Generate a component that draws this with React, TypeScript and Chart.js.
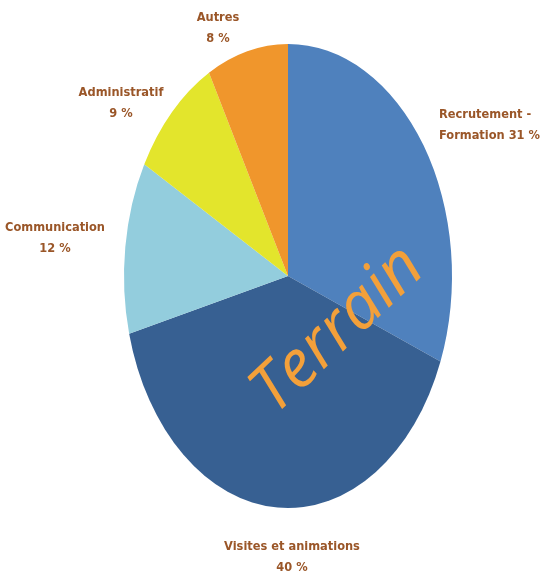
import React, { useEffect, useRef } from "react";
import { Chart, registerables } from "chart.js";

Chart.register(...registerables);

const categories = [
  "Recrutement - Formation",
  "Visites et animations",
  "Communication",
  "Administratif",
  "Autres",
];
const values = [31, 40, 12, 9, 8];
const sliceColors = ["#4F81BD", "#376092", "#93CDDD", "#E3E52C", "#F0962C"];

// label lines and anchors (layout, kept separate from data)
const labelLines = [
  ["Recrutement -", "Formation 31 %"],
  ["Visites et animations", "40 %"],
  ["Communication", "12 %"],
  ["Administratif", "9 %"],
  ["Autres", "8 %"],
];
const labelAnchors = [
  { x: 439, y: 115, align: "left" },
  { x: 292, y: 547, align: "center" },
  { x: 55, y: 228, align: "center" },
  { x: 121, y: 93, align: "center" },
  { x: 218, y: 18, align: "center" },
];
const overlayText = "Terrain";
const Y_STRETCH = 1.415;

export default function App() {
  const ref = useRef<HTMLCanvasElement | null>(null);

  useEffect(() => {
    document.body.style.margin = "0";
    const canvas = ref.current;
    if (!canvas) return;

    const ellipsePlugin = {
      id: "ellipse",
      beforeDatasetsDraw(chart: any) {
        const meta = chart.getDatasetMeta(0);
        const arc = meta.data[0];
        if (!arc) return;
        const ctx = chart.ctx;
        ctx.save();
        ctx.translate(arc.x, arc.y);
        ctx.scale(1, Y_STRETCH);
        ctx.translate(-arc.x, -arc.y);
      },
      afterDatasetsDraw(chart: any) {
        chart.ctx.restore();
      },
    };

    const labelsPlugin = {
      id: "labels",
      afterDraw(chart: any) {
        const ctx = chart.ctx;
        ctx.save();
        ctx.fillStyle = "#9A5628";
        ctx.font = "bold 12.7px 'DejaVu Sans Condensed', 'DejaVu Sans', sans-serif";
        ctx.textBaseline = "middle";
        labelLines.forEach((lines, i) => {
          const a = labelAnchors[i];
          ctx.textAlign = a.align as CanvasTextAlign;
          lines.forEach((t, j) => {
            ctx.fillText(t, a.x, a.y + j * 21);
          });
        });
        // overlay word
        const arc = chart.getDatasetMeta(0).data[0];
        const cx = arc.x + 50;
        const cy = arc.y + 54;
        ctx.translate(cx, cy);
        ctx.rotate(-0.76);
        ctx.font = "italic 66px 'Open Sans', 'DejaVu Sans', sans-serif";
        ctx.fillStyle = "#F3A03A";
        ctx.textAlign = "center";
        ctx.textBaseline = "middle";
        ctx.fillText(overlayText, 0, 0);
        ctx.restore();
      },
    };

    const chart = new Chart(canvas, {
      type: "pie",
      data: {
        labels: categories,
        datasets: [
          {
            data: values,
            backgroundColor: sliceColors,
            borderWidth: 0,
          },
        ],
      },
      options: {
        animation: false,
        responsive: true,
        maintainAspectRatio: false,
        layout: { padding: { left: 124, right: 91, top: 112, bottom: 141 } },
        plugins: {
          legend: { display: false },
          tooltip: { enabled: false },
        },
      },
      plugins: [ellipsePlugin, labelsPlugin],
    });
    return () => chart.destroy();
  }, []);

  return (
    <div style={{ width: 543, height: 581, position: "relative", background: "#fff" }}>
      <canvas ref={ref} />
    </div>
  );
}
